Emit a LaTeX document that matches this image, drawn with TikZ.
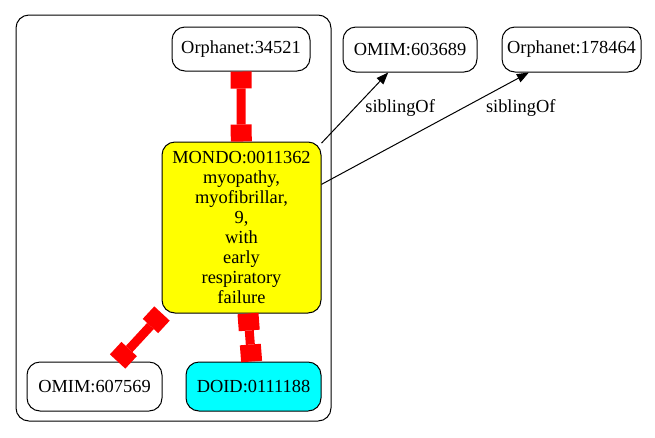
\documentclass[tikz,border=0pt]{standalone}
\usepackage{fontspec}
\setmainfont{Liberation Serif}
\usetikzlibrary{positioning,arrows.meta}

\definecolor{termyellow}{RGB}{255,255,0}
\definecolor{termcyan}{RGB}{0,255,255}
\definecolor{linkred}{RGB}{255,0,0}

\tikzset{
  term/.style={draw, line width=1pt, rounded corners=13pt, inner sep=0pt,
    font=\fontsize{18.4}{19.9}\selectfont, align=center},
  redlink/.style={linkred, line width=9pt,
    {Rectangle[length=17pt,width=21pt,line width=0pt]}-{Rectangle[length=17pt,width=21pt,line width=0pt]}},
  sib/.style={line width=1pt, -{Triangle[length=12pt,width=9pt]}},
  lbl/.style={inner sep=0pt, font=\fontsize{18.4}{19.9}\selectfont}
}

\begin{document}
\begin{tikzpicture}[x=1pt,y=-1pt]
    \useasboundingbox (0,0) rectangle (655,437);

    % Cluster frame
    \draw[line width=1pt, rounded corners=13pt] (16,15) rectangle (331,421);

    % Terms
    \node[term, minimum width=138pt, minimum height=44pt] (orph1) at (241,49) {Orphanet:34521};
    \node[term, minimum width=134pt, minimum height=45pt] (omim1) at (410,49.5) {OMIM:603689};
    \node[term, minimum width=139pt, minimum height=45pt] (orph2) at (571.5,49.5) {Orphanet:178464};
    \node[term, fill=termyellow, minimum width=159pt, minimum height=171pt] (mondo) at (241.5,227.5)
      {MONDO:0011362\\myopathy,\\myofibrillar,\\9,\\with\\early\\respiratory\\failure};
    \node[term, minimum width=135pt, minimum height=49pt] (omim2) at (94.5,386.5) {OMIM:607569};
    \node[term, fill=termcyan, minimum width=135pt, minimum height=49pt] (doid) at (253.5,386.5) {DOID:0111188};

    % Equivalence links
    \draw[redlink] (orph1) -- (mondo);
    \draw[redlink] (mondo) -- (omim2);
    \draw[redlink] (mondo) -- (doid);

    % Sibling links
    \draw[sib] (mondo) -- (omim1) node[lbl, pos=0.5, right=10pt] (lab1) {siblingOf};
    \draw[sib] (mondo) -- (orph2) node[lbl, pos=0.68, right=23pt] (lab2) {siblingOf};

  \end{tikzpicture}
\end{document}
